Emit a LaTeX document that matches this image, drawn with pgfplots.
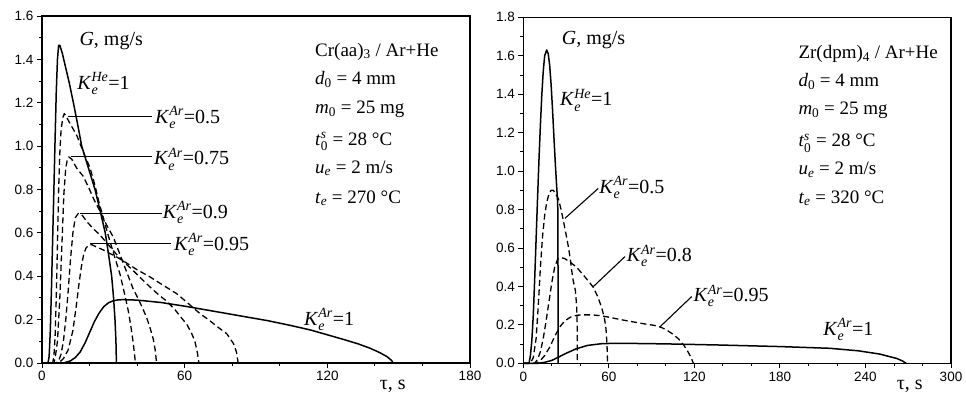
\documentclass[border=0pt]{standalone}
\usepackage{amsmath}
\usepackage{fontspec}
\setmainfont{Liberation Serif}
\newfontfamily\tickfont{Liberation Sans}
\usepackage{pgfplots}
\pgfplotsset{compat=1.18}

\newcommand{\Ke}[1]{\textit{K}$_{\textit{e}}^{\textit{#1}}$}
\newcommand{\lab}{\fontsize{20}{24}\selectfont}
\newcommand{\prm}{\fontsize{19}{22}\selectfont}

\tikzset{
  sol/.style={black, line width=1.5pt, line join=round},
  das/.style={black, line width=1.3pt, dash pattern=on 6pt off 3.5pt, line join=round},
  lead/.style={black, line width=1.1pt},
  txt/.style={anchor=base west, inner sep=0pt, text=black},
}
\pgfplotsset{
  myax/.style={
    scale only axis, anchor=south west, clip=false,
    axis line style={line width=1.1pt},
    tick pos=left, tick align=outside,
    major tick length=5pt, minor tick length=3pt,
    every tick/.style={line width=0.9pt, black},
    minor x tick num=2, minor y tick num=1,
    xmin=0, ymin=0,
    /pgf/number format/assume math mode=true,
    ticklabel style={font=\tickfont\fontsize{13.5}{13.5}\selectfont},
    yticklabel style={/pgf/number format/.cd, fixed, fixed zerofill, precision=1},
    xticklabel style={/pgf/number format/.cd, fixed, precision=0},
  }
}

\begin{document}
\begin{tikzpicture}
\useasboundingbox (0,0) rectangle (966pt,395pt);

% ---------------- left panel ----------------
\begin{axis}[myax, at={(42pt,32pt)}, width=428pt, height=347pt,
  xmax=180, ymax=1.6, xtick={0,60,120,180},
  ytick={0,0.2,0.4,0.6,0.8,1.0,1.2,1.4,1.6}]
% He = 1
\addplot[sol] coordinates {(0,0)(2.5,0)(3,0.03)(3.5,0.15)(4,0.35)(4.5,0.58)(5,0.8)(5.5,1.03)(6,1.25)(6.5,1.40)(7,1.465)(7.5,1.465)(8.5,1.43)(10,1.36)(11.5,1.29)(13.2,1.2)(15,1.1)(16.7,1.0)(19.5,0.9)(22.3,0.8)(24.5,0.7)(26.6,0.6)(28,0.5)(29.3,0.4)(30.1,0.3)(30.7,0.2)(31.1,0.1)(31.3,0)};
% Ar = 0.5
\addplot[das] coordinates {(0,0)(4.5,0)(5,0.03)(5.5,0.12)(6,0.3)(6.5,0.55)(7,0.8)(7.5,0.97)(8,1.07)(8.7,1.13)(9.4,1.15)(10.5,1.13)(12,1.1)(14.6,1.05)(17.5,0.97)(20.2,0.9)(22,0.83)(24,0.74)(26.5,0.64)(28.6,0.56)(30.8,0.48)(32.8,0.41)(34.7,0.32)(36.3,0.24)(37.5,0.16)(38.4,0.09)(38.9,0.04)(39.3,0)};
% Ar = 0.75
\addplot[das] coordinates {(0,0)(5,0)(5.5,0.02)(6.5,0.1)(7.5,0.3)(8.5,0.58)(9.2,0.78)(10,0.9)(10.7,0.94)(11.3,0.95)(12.5,0.94)(14.5,0.9)(17.4,0.86)(20,0.8)(22,0.75)(24.4,0.7)(27,0.64)(30,0.58)(32.8,0.5)(34.2,0.46)(36.3,0.4)(38.4,0.34)(40.3,0.3)(42,0.26)(44,0.21)(45.5,0.16)(46.8,0.11)(47.6,0.06)(48.2,0)};
% Ar = 0.9
\addplot[das] coordinates {(0,0)(6,0)(7,0.01)(8,0.04)(9,0.1)(10,0.2)(11,0.33)(12,0.48)(13,0.6)(14,0.67)(15.3,0.69)(17,0.68)(19,0.65)(21.5,0.62)(24.4,0.59)(27.5,0.55)(31.4,0.5)(35,0.46)(38,0.43)(41.2,0.395)(45,0.355)(48.5,0.32)(52.4,0.285)(56,0.245)(58.5,0.21)(60.8,0.18)(62.8,0.14)(64.3,0.1)(65.3,0.05)(66,0)};
% Ar = 0.95
\addplot[das] coordinates {(0,0)(7,0)(9,0.02)(11,0.06)(13,0.15)(14.5,0.27)(15.5,0.36)(16.5,0.44)(17.5,0.5)(18.5,0.53)(19.8,0.545)(21,0.545)(23,0.535)(26,0.52)(28.5,0.505)(31.4,0.489)(35,0.465)(40,0.43)(45.4,0.397)(50,0.365)(56.6,0.32)(62,0.27)(66.4,0.228)(70,0.2)(74,0.165)(77.7,0.135)(80.5,0.09)(81.8,0.05)(82.5,0)};
% Ar = 1
\addplot[sol] coordinates {(0,0)(9,0)(12,0.01)(14,0.025)(16,0.05)(18,0.09)(20,0.14)(22,0.19)(24,0.23)(26,0.26)(28,0.278)(30,0.287)(32,0.291)(34,0.292)(40,0.29)(50,0.279)(60,0.262)(70,0.243)(83,0.218)(95,0.195)(105,0.172)(113,0.152)(120,0.13)(127,0.108)(133,0.088)(138,0.068)(142,0.048)(145,0.03)(147,0.012)(147.7,0)};
% leaders
\draw[lead] (axis cs:11.1,1.136) -- (axis cs:46.1,1.136);
\draw[lead] (axis cs:12.2,0.951) -- (axis cs:46.1,0.951);
\draw[lead] (axis cs:16.0,0.690) -- (axis cs:50.3,0.690);
\draw[lead] (axis cs:20.2,0.549) -- (axis cs:54.1,0.549);
% labels
\node[txt] at (axis cs:15.7,1.466) {\lab\textit{G}, mg/s};
\node[txt] at (axis cs:14.8,1.262) {\lab\Ke{He}=1};
\node[txt] at (axis cs:47.5,1.105) {\lab\Ke{Ar}=0.5};
\node[txt] at (axis cs:47.1,0.913) {\lab\Ke{Ar}=0.75};
\node[txt] at (axis cs:50.8,0.667) {\lab\Ke{Ar}=0.9};
\node[txt] at (axis cs:55.5,0.521) {\lab\Ke{Ar}=0.95};
\node[txt] at (axis cs:110.2,0.175) {\lab\Ke{Ar}=1};
\node[txt] at (axis cs:142,-0.122) {\lab τ, s};
\node[txt] at (axis cs:114.8,1.415) {\prm Cr(aa)\textsubscript{3} / Ar+He};
\node[txt] at (axis cs:114.8,1.282) {\prm\textit{d}$_{\text{0}}$ = 4 mm};
\node[txt] at (axis cs:114.8,1.151) {\prm\textit{m}$_{\text{0}}$ = 25 mg};
\node[txt] at (axis cs:114.8,1.005) {\prm\textit{t}$_{\text{0}}^{\textit{s}}$ = 28 °C};
\node[txt] at (axis cs:114.8,0.875) {\prm\textit{u}$_{\textit{e}}$ = 2 m/s};
\node[txt] at (axis cs:114.8,0.736) {\prm\textit{t}$_{\textit{e}}$ = 270 °C};
\end{axis}

% ---------------- right panel ----------------
\begin{axis}[myax, at={(523.3pt,31.7pt)}, width=427.7pt, height=346pt,
  xmax=300, ymax=1.8, xtick={0,60,120,180,240,300},
  ytick={0,0.2,0.4,0.6,0.8,1.0,1.2,1.4,1.6,1.8}]
% He = 1
\addplot[sol] coordinates {(0,0)(4,0)(5,0.04)(6,0.12)(7,0.25)(8,0.44)(9,0.65)(10,0.86)(11,1.06)(12,1.24)(13,1.4)(14,1.52)(15,1.6)(16.4,1.63)(17.5,1.61)(18.5,1.55)(19.5,1.45)(20.5,1.32)(21.6,1.16)(22.6,1.02)(23.4,0.92)(24,0.85)(24.3,0.78)(24.4,0)};
% Ar = 0.5
\addplot[das] coordinates {(0,0)(5,0)(7,0.03)(9,0.13)(10.5,0.3)(12,0.5)(13.5,0.66)(15,0.77)(16.5,0.84)(18,0.88)(19.5,0.9)(21,0.9)(22.5,0.885)(24.6,0.855)(26.5,0.8)(28,0.746)(30,0.67)(31.6,0.607)(33,0.54)(33.9,0.485)(35,0.43)(36.5,0.38)(37.4,0.3)(37.8,0.2)(37.9,0)};
% Ar = 0.8
\addplot[das] coordinates {(0,0)(8,0)(10,0.02)(12,0.06)(14,0.13)(16,0.22)(18,0.32)(20,0.42)(22,0.5)(24,0.54)(26,0.55)(29,0.545)(33,0.525)(37.4,0.5)(42,0.46)(46,0.425)(49.1,0.395)(52,0.35)(55,0.29)(57,0.23)(58,0.18)(58.7,0.1)(59.1,0)};
% Ar = 0.95
\addplot[das] coordinates {(0,0)(9,0)(12,0.015)(15,0.04)(18.7,0.086)(22,0.14)(25.7,0.19)(29,0.22)(33,0.24)(37.5,0.25)(42,0.252)(48,0.252)(53.8,0.248)(60,0.24)(67.8,0.228)(75,0.218)(85,0.205)(92,0.197)(97,0.186)(101,0.171)(105,0.151)(109,0.126)(112.5,0.095)(115.5,0.06)(117.7,0.03)(119.3,0)};
% Ar = 1
\addplot[sol] coordinates {(0,0)(10,0)(15,0.005)(20,0.015)(25,0.033)(30,0.052)(37,0.075)(45,0.093)(55,0.102)(65,0.104)(80,0.103)(100,0.101)(138,0.095)(180,0.087)(215,0.078)(235,0.065)(250,0.048)(262,0.025)(266,0.012)(268.5,0)};
% leaders
\draw[lead] (axis cs:29.2,0.754) -- (axis cs:52.6,0.910);
\draw[lead] (axis cs:49.1,0.399) -- (axis cs:71.3,0.555);
\draw[lead] (axis cs:95.9,0.190) -- (axis cs:118.1,0.347);
% labels
\node[txt] at (axis cs:26.9,1.656) {\lab\textit{G}, mg/s};
\node[txt] at (axis cs:25.7,1.339) {\lab\Ke{He}=1};
\node[txt] at (axis cs:53.3,0.884) {\lab\Ke{Ar}=0.5};
\node[txt] at (axis cs:72.5,0.529) {\lab\Ke{Ar}=0.8};
\node[txt] at (axis cs:119.3,0.321) {\lab\Ke{Ar}=0.95};
\node[txt] at (axis cs:210.4,0.147) {\lab\Ke{Ar}=1};
\node[txt] at (axis cs:261.9,-0.138) {\lab τ, s};
\node[txt] at (axis cs:192.9,1.587) {\prm Zr(dpm)\textsubscript{4} / Ar+He};
\node[txt] at (axis cs:192.9,1.439) {\prm\textit{d}$_{\text{0}}$ = 4 mm};
\node[txt] at (axis cs:192.9,1.292) {\prm\textit{m}$_{\text{0}}$ = 25 mg};
\node[txt] at (axis cs:192.9,1.127) {\prm\textit{t}$_{\text{0}}^{\textit{s}}$ = 28 °C};
\node[txt] at (axis cs:192.9,0.980) {\prm\textit{u}$_{\textit{e}}$ = 2 m/s};
\node[txt] at (axis cs:192.9,0.832) {\prm\textit{t}$_{\textit{e}}$ = 320 °C};
\end{axis}
\end{tikzpicture}
\end{document}
